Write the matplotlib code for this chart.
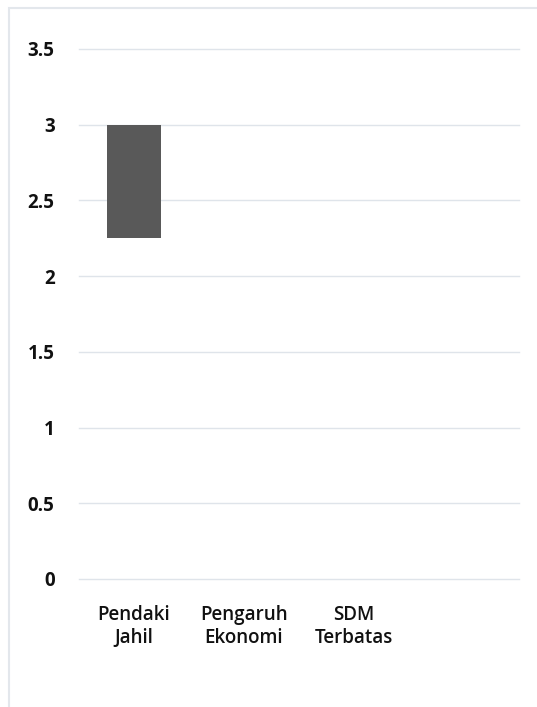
import matplotlib
matplotlib.use("Agg")
import matplotlib.pyplot as plt
from matplotlib.patches import Rectangle

# Data: floating range bars (low -> high) per category
categories = ["Pendaki\nJahil", "Pengaruh\nEkonomi", "SDM\nTerbatas", ""]
low_values = [2.25, 0, 0, 0]
high_values = [3.0, 0, 0, 0]
y_ticks = [0, 0.5, 1, 1.5, 2, 2.5, 3, 3.5]
y_tick_labels = ["0", "0.5", "1", "1.5", "2", "2.5", "3", "3.5"]

W, H, DPI = 537, 707, 100
fig = plt.figure(figsize=(W / DPI, H / DPI), dpi=DPI)
fig.patch.set_facecolor("white")

# Chart frame (only left and top edges fall inside the canvas)
fig.patches.append(Rectangle((8.5 / W, -0.1), 1.2, 1 - 7.5 / H + 0.1,
                             transform=fig.transFigure, fill=False,
                             edgecolor="#e3e7ec", linewidth=1.5))

left, right = 79 / W, 519 / W
bottom, top = 1 - 579 / H, 1 - 49 / H
ax = fig.add_axes([left, bottom, right - left, top - bottom])

x = list(range(len(categories)))
heights = [h - l for h, l in zip(high_values, low_values)]
ax.bar(x, heights, bottom=low_values, width=0.49, color="#595959",
       zorder=3, linewidth=0)

ax.set_xlim(-0.5, len(categories) - 0.5)
ax.set_ylim(0, 3.5)
ax.set_yticks(y_ticks)
ax.set_yticklabels(y_tick_labels)
ax.set_xticks(x)
ax.set_xticklabels(categories)

font = "Open Sans"
for lbl in ax.get_yticklabels():
    lbl.set_fontfamily(font)
    lbl.set_fontsize(13.5)
    lbl.set_fontweight("bold")
    lbl.set_color("#111111")
for lbl in ax.get_xticklabels():
    lbl.set_fontfamily(font)
    lbl.set_fontsize(13.5)
    lbl.set_fontweight("semibold")
    lbl.set_color("#111111")
    lbl.set_linespacing(1.15)

ax.tick_params(axis="y", length=0, pad=17.5)
ax.tick_params(axis="x", length=0, pad=19)
ax.grid(axis="y", color="#dfe4ea", linewidth=1.0, zorder=0)
for gl in ax.get_ygridlines():
    gl.set_clip_on(False)
ax.set_axisbelow(True)
for s in ax.spines.values():
    s.set_visible(False)

fig.savefig("out.png", dpi=DPI, facecolor="white")
